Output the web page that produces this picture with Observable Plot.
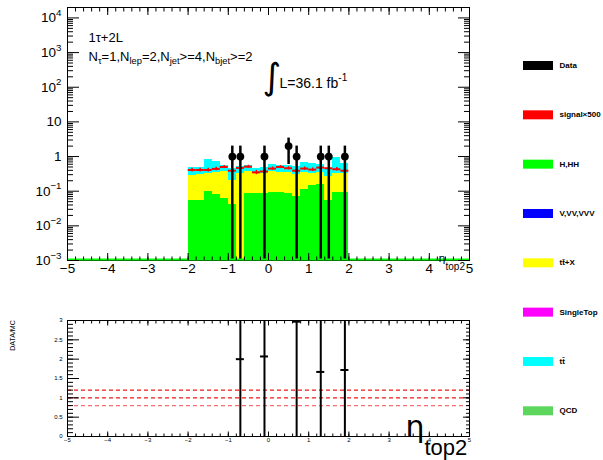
<!DOCTYPE html>
<html><head><meta charset="utf-8">
<script src="https://cdn.jsdelivr.net/npm/d3@7"></script>
<script src="https://cdn.jsdelivr.net/npm/@observablehq/plot@0.6"></script>
<style>
body{margin:0;background:#fff;}
#root{position:relative;width:603px;height:460px;overflow:hidden;font-family:"Liberation Sans",Arial,sans-serif;background:#fff;}
#root svg{position:absolute;overflow:visible;background:none;}
</style></head><body><div id="root"></div>
<script>
// ---------- data ----------
const binLow = [-2.0,-1.8,-1.6,-1.4,-1.2,-1.0,-0.8,-0.6,-0.4,-0.2,0.0,0.2,0.4,0.6,0.8,1.0,1.2,1.4,1.6,1.8];
const binWidth = 0.2;
const yieldHHH   = [0.054,0.054,0.098,0.080,0.062,0.040,0.000,0.088,0.088,0.088,0.092,0.092,0.088,0.069,0.115,0.144,0.160,0.053,0.092,0.092];
const yieldTTX   = [0.236,0.246,0.232,0.270,0.298,0.160,0.330,0.272,0.232,0.242,0.268,0.258,0.252,0.241,0.225,0.176,0.180,0.207,0.238,0.238];
const yieldTTbar = [0.200,0.190,0.510,0.380,0.210,0.240,0.170,0.200,0.120,0.160,0.240,0.220,0.200,0.190,0.320,0.310,0.240,0.160,0.630,0.290];
const signalX500 = [0.41,0.41,0.41,0.44,0.50,0.39,0.47,0.51,0.35,0.37,0.45,0.50,0.46,0.39,0.45,0.42,0.48,0.46,0.43,0.39];
const signalErr  = [0.05,0.05,0.05,0.05,0.05,0.05,0.05,0.05,0.05,0.05,0.05,0.05,0.05,0.05,0.05,0.05,0.05,0.05,0.05,0.05];

const dataX   = [-0.9,-0.7,-0.1,0.5,0.7,1.3,1.5,1.9];
const dataN   = [1,1,1,2,1,1,1,1];
const dataErr = [1,1,1,1.41,1,1,1,1];

const ratioX   = [-0.7,-0.1,0.7,1.3,1.9];
const ratioVal = [2.00,2.07,2.97,1.67,1.72];
const ratioErr = [2.00,2.07,2.97,1.67,1.72];
const ratioRefLines = [1.2,1.0,0.8];
const ratioRefColors = ["#f01818","#f01818","#f47070"];

const legendNames  = ["Data","signal×500","H,HH","V,VV,VVV","tt\u0304+X","SingleTop","tt\u0304","QCD"];
const legendColors = ["#000000","#ff0000","#00ff00","#0000ff","#ffff00","#ff00ff","#00ffff","#5cd65c"];

const xMajor = [-5,-4,-3,-2,-1,0,1,2,3,4,5];
const xMajorLabels = ["−5","−4","−3","−2","−1","0","1","2","3","4","5"];
const yMajor = [1e-3,1e-2,1e-1,1,10,100,1e3,1e4];
const yMajorLabels = ["10^{−3}","10^{−2}","10^{−1}","1","10","10^{2}","10^{3}","10^{4}"];
const rMajor = [0,0.5,1,1.5,2,2.5,3];
const rMajorLabels = ["0","0.5","1","1.5","2","2.5","3"];
const xTitle = "η_{top2}";

// ---------- derived ----------
const FLOOR = 1e-3;
const xMinor = d3.range(-50, 51, 2).map(v => v / 10);
const yMinor = [];
for (let e = -3; e <= 4; e++) for (let m = 2; m <= 9; m++) { const v = m * Math.pow(10, e); if (v < 2e4) yMinor.push(v); }
const rMinor = d3.range(0, 31, 1).map(v => v / 10);

const stackProcs = [
  {name: "H,HH", vals: yieldHHH, color: "#00ff00"},
  {name: "ttX", vals: yieldTTX, color: "#ffff00"},
  {name: "ttbar", vals: yieldTTbar, color: "#00ffff"}
];
const stackRows = [];
binLow.forEach((lo, i) => {
  let cum = 0;
  stackProcs.forEach(p => {
    const y1 = Math.max(cum, FLOOR);
    cum += p.vals[i];
    const y2 = Math.max(cum, FLOOR);
    if (y2 > y1) stackRows.push({x1: lo, x2: lo + binWidth, y1, y2, color: p.color});
  });
});
const sigRows = binLow.map((lo, i) => ({lo, hi: lo + binWidth, c: lo + binWidth / 2, v: signalX500[i], e: signalErr[i]}));
const dataRows = dataX.map((x, i) => ({x, n: dataN[i], lo: Math.max(dataN[i] - dataErr[i], FLOOR), hi: dataN[i] + dataErr[i]}));
const ratioRows = ratioX.map((x, i) => ({x, r: ratioVal[i], lo: Math.max(0, ratioVal[i] - ratioErr[i]), hi: Math.min(3, ratioVal[i] + ratioErr[i])}));
const refRows = ratioRefLines.map((v, i) => ({v, c: ratioRefColors[i]}));
const legendRows = legendNames.map((name, i) => ({name, i, color: legendColors[i]}));

const FONT = "Liberation Sans, Arial, Helvetica, sans-serif";
const GREEK = "DejaVu Sans, Liberation Sans, sans-serif";
const lab = (vals, labels) => d => { let k = 0, best = Infinity; vals.forEach((v, j) => { const dd = Math.abs(v - d); if (dd < best) { best = dd; k = j; } }); return labels[k]; };
const blank = () => "";

// ---------- top panel ----------
const topPlot = Plot.plot({
  width: 500, height: 300,
  marginLeft: 67, marginRight: 31, marginTop: 7, marginBottom: 40,
  style: {fontFamily: FONT, background: "none", color: "black"},
  x: {domain: [-5, 5], axis: null},
  y: {type: "log", domain: [FLOOR, 2e4], axis: null},
  color: {type: "identity"},
  marks: [
    Plot.rect(stackRows, {x1: "x1", x2: "x2", y1: "y1", y2: "y2", fill: "color", shapeRendering: "crispEdges"}),
    Plot.ruleY(sigRows, {y: "v", x1: "lo", x2: "hi", stroke: "#ff0000", strokeWidth: 2}),
    Plot.ruleX(sigRows, {x: "c", y1: d => d.v - d.e, y2: d => d.v + d.e, stroke: "#ff0000", strokeWidth: 1.5}),
    Plot.ruleX(dataRows, {x: "x", y1: "lo", y2: "hi", stroke: "black", strokeWidth: 2.5}),
    Plot.dot(dataRows, {x: "x", y: "n", r: 3.9, fill: "black"}),
    Plot.frame({stroke: "black", strokeWidth: 1}),
    Plot.ruleY([FLOOR], {stroke: "#00ff00", strokeWidth: 2, dy: -1}),
    Plot.axisY({ticks: yMajor, anchor: "left", tickSize: -12, tickPadding: 18, tickFormat: lab(yMajor, yMajorLabels), fontSize: 13.5, label: null}),
    Plot.axisY({ticks: yMinor, anchor: "left", tickSize: -6, tickFormat: blank, label: null}),
    Plot.axisY({ticks: yMajor, anchor: "right", tickSize: -12, tickFormat: blank, label: null}),
    Plot.axisY({ticks: yMinor, anchor: "right", tickSize: -6, tickFormat: blank, label: null}),
    Plot.axisX({ticks: xMajor, anchor: "bottom", tickSize: -7, tickPadding: 10, tickFormat: lab(xMajor, xMajorLabels), fontSize: 13.5, label: null}),
    Plot.axisX({ticks: xMinor, anchor: "bottom", tickSize: -3.5, tickFormat: blank, label: null}),
    Plot.axisX({ticks: xMajor, anchor: "top", tickSize: -7, tickFormat: blank, label: null}),
    Plot.axisX({ticks: xMinor, anchor: "top", tickSize: -3.5, tickFormat: blank, label: null}),
    Plot.text(["1τ+2L"], {text: d => d, frameAnchor: "top-left", dx: 21, dy: 34, textAnchor: "start", lineAnchor: "bottom", fontSize: 13}),
    Plot.text(["N_{τ}=1,N_{lep}=2,N_{jet}>=4,N_{bjet}>=2"], {text: d => d, frameAnchor: "top-left", dx: 21, dy: 53, textAnchor: "start", lineAnchor: "bottom", fontSize: 13}),
    Plot.text(["∫"], {text: d => d, frameAnchor: "top-left", dx: 195, dy: 81, textAnchor: "start", lineAnchor: "bottom", fontSize: 36, fontFamily: "DejaVu Sans"}),
    Plot.text(["L=36.1 fb^{-1}"], {text: d => d, frameAnchor: "top-left", dx: 212, dy: 80, textAnchor: "start", lineAnchor: "bottom", fontSize: 14}),
    Plot.text([xTitle], {text: d => d, frameAnchor: "bottom-right", dx: -31, dy: 1, textAnchor: "start", lineAnchor: "bottom", fontSize: 11, fontFamily: GREEK})
  ]
});

// ---------- ratio panel ----------
const ratioPlot = Plot.plot({
  width: 500, height: 160,
  marginLeft: 67, marginRight: 31, marginTop: 20, marginBottom: 24,
  style: {fontFamily: FONT, background: "none", color: "black"},
  x: {domain: [-5, 5], axis: null},
  y: {domain: [0, 3], axis: null},
  color: {type: "identity"},
  marks: [
    Plot.ruleY(refRows, {y: "v", stroke: "c", strokeWidth: 1.2, strokeDasharray: "4,3"}),
    Plot.ruleX(ratioRows, {x: "x", y1: "lo", y2: "hi", stroke: "black", strokeWidth: 2}),
    Plot.ruleY(ratioRows, {y: "r", x1: d => d.x - binWidth / 2, x2: d => d.x + binWidth / 2, stroke: "black", strokeWidth: 2}),
    Plot.frame({stroke: "black", strokeWidth: 1}),
    Plot.axisY({ticks: rMajor, anchor: "left", tickSize: -12, tickPadding: 17, tickFormat: lab(rMajor, rMajorLabels), fontSize: 6, label: null}),
    Plot.axisY({ticks: rMinor, anchor: "left", tickSize: -6, tickFormat: blank, label: null}),
    Plot.axisY({ticks: rMajor, anchor: "right", tickSize: -7, tickFormat: blank, label: null}),
    Plot.axisY({ticks: rMinor, anchor: "right", tickSize: -4, tickFormat: blank, label: null}),
    Plot.axisX({ticks: xMajor, anchor: "bottom", tickSize: -4.5, tickPadding: 6, tickFormat: lab(xMajor, xMajorLabels), fontSize: 6, label: null}),
    Plot.axisX({ticks: xMinor, anchor: "bottom", tickSize: -2.5, tickFormat: blank, label: null}),
    Plot.axisX({ticks: xMajor, anchor: "top", tickSize: -4.5, tickFormat: blank, label: null}),
    Plot.axisX({ticks: xMinor, anchor: "top", tickSize: -2.5, tickFormat: blank, label: null}),
    Plot.text(["DATA/MC"], {text: d => d, frameAnchor: "top-left", dx: -57, dy: 15, rotate: -90, textAnchor: "middle", fontSize: 7}),
    Plot.text([xTitle], {text: d => d, frameAnchor: "bottom-right", dx: -64, dy: 0, textAnchor: "start", lineAnchor: "bottom", fontSize: 30, fontFamily: GREEK})
  ]
});

// ---------- legend ----------
const legendPlot = Plot.plot({
  width: 103, height: 460, margin: 0,
  style: {fontFamily: FONT, background: "none", color: "black"},
  x: {domain: [0, 103], axis: null},
  y: {domain: [0, 7], range: [65, 410.3], axis: null},
  color: {type: "identity"},
  marks: [
    Plot.ruleY(legendRows, {y: "i", x1: 23, x2: 53, stroke: "color", strokeWidth: 9}),
    Plot.text(legendRows, {x: 59, y: "i", text: "name", textAnchor: "start", fontSize: 8, fontWeight: "bold"})
  ]
});

const root = document.getElementById("root");
[[topPlot, 0, 0], [ratioPlot, 0, 300], [legendPlot, 500, 0]].forEach(([svg, l, t]) => {
  svg.style.left = l + "px"; svg.style.top = t + "px";
  root.appendChild(svg);
});

// rich text: ^{..} superscript, _{..} subscript
function richify(svg, overrides = {}) {
  svg.querySelectorAll("text").forEach(t => {
    if (t.querySelector("tspan")) return;
    const s = t.textContent;
    if (!/[\^_]\{/.test(s)) return;
    const o = Object.assign({sup: 0.45, sub: 0.3, ratio: 0.72, font: null}, overrides[s] || {});
    const fs = parseFloat(getComputedStyle(t).fontSize) || 13;
    const segs = [];
    const re = /(\^|_)\{([^}]*)\}/g;
    let last = 0, m;
    while ((m = re.exec(s))) {
      if (m.index > last) segs.push({t: s.slice(last, m.index), mode: "n"});
      segs.push({t: m[2], mode: m[1] === "^" ? "sup" : "sub"});
      last = re.lastIndex;
    }
    if (last < s.length) segs.push({t: s.slice(last), mode: "n"});
    t.textContent = "";
    let cur = 0;
    segs.forEach(sg => {
      const target = sg.mode === "sup" ? -o.sup * fs : sg.mode === "sub" ? o.sub * fs : 0;
      const ts = document.createElementNS("http://www.w3.org/2000/svg", "tspan");
      if (target !== cur) ts.setAttribute("dy", (target - cur).toFixed(2));
      if (sg.mode !== "n") {
        ts.setAttribute("font-size", (o.ratio * fs).toFixed(2));
        if (o.font) ts.setAttribute("font-family", o.font);
      }
      ts.textContent = sg.t;
      t.appendChild(ts);
      cur = target;
    });
  });
}
richify(topPlot, {[xTitle]: {sub: 0.73, ratio: 0.91, font: FONT}});
richify(ratioPlot, {[xTitle]: {sub: 0.6, ratio: 0.733, font: FONT}});
richify(legendPlot);
</script></body></html>
